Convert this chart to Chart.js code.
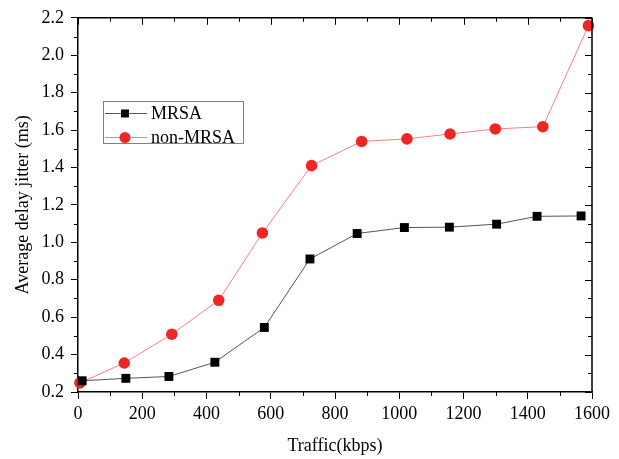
<!DOCTYPE html>
<html>
<head>
<meta charset="utf-8">
<script src="https://cdn.jsdelivr.net/npm/chart.js@4"></script>
<style>
  html, body { margin: 0; padding: 0; background: #fff; }
  #wrap { width: 619px; height: 459px; position: relative; }
</style>
</head>
<body>
<div id="wrap"><canvas id="c" width="619" height="459"></canvas></div>
<script>
const seriesNames = ['MRSA', 'non-MRSA'];
const mrsaTraffic = [13, 149, 283, 426, 580, 722, 869, 1016, 1156, 1303, 1429, 1566];
const mrsaJitter = [0.260, 0.273, 0.283, 0.359, 0.545, 0.911, 1.047, 1.079, 1.081, 1.097, 1.139, 1.141];
const nonTraffic = [6, 144, 292, 438, 574, 727, 883, 1024, 1158, 1299, 1447, 1589];
const nonJitter = [0.249, 0.355, 0.509, 0.690, 1.050, 1.410, 1.539, 1.553, 1.579, 1.606, 1.618, 2.158];
const xTitle = 'Traffic(kbps)';
const yTitle = 'Average delay jitter (ms)';

const FONT = '"Liberation Serif", "Times New Roman", serif';

const toPoints = (xs, ys) => xs.map((x, i) => ({ x: x, y: ys[i] }));

const framePlugin = {
  id: 'frame',
  afterDraw(chart) {
    const ctx = chart.ctx;
    const a = chart.chartArea;
    const xs = chart.scales.x, ys = chart.scales.y;
    ctx.save();
    ctx.strokeStyle = '#000';
    ctx.lineWidth = 1.5;
    ctx.beginPath();
    ctx.moveTo(a.left, a.top); ctx.lineTo(a.right, a.top);
    ctx.moveTo(a.right, a.top); ctx.lineTo(a.right, a.bottom);
    ctx.stroke();
    ctx.lineWidth = 1;
    ctx.beginPath();
    for (let v = xs.min; v <= xs.max + 1e-9; v += 100) {
      const px = Math.round(xs.getPixelForValue(v)) + 0.5;
      const major = Math.abs(v % 200) < 1e-9;
      const len = major ? 7 : 4;
      if (!major) { ctx.moveTo(px, a.bottom); ctx.lineTo(px, a.bottom + len); }
      ctx.moveTo(px, a.top); ctx.lineTo(px, a.top + len);
    }
    for (let k = 0; k <= 20; k++) {
      const v = ys.min + k * 0.1;
      const py = Math.round(ys.getPixelForValue(v)) + 0.5;
      const major = k % 2 === 0;
      const len = major ? 7 : 4;
      if (!major) { ctx.moveTo(a.left, py); ctx.lineTo(a.left - len, py); }
      ctx.moveTo(a.right, py); ctx.lineTo(a.right - len, py);
    }
    ctx.stroke();

    // legend box
    const bx = 103, by = 101, bw = 140, bh = 42;
    ctx.strokeStyle = '#808080';
    ctx.lineWidth = 1;
    ctx.strokeRect(bx + 0.5, by + 0.5, bw, bh);
    const rows = [113, 137];
    chart.data.datasets.forEach((ds, i) => {
      const yy = rows[i];
      ctx.strokeStyle = ds.borderColor;
      ctx.lineWidth = 1;
      ctx.beginPath();
      ctx.moveTo(105, yy + 0.5); ctx.lineTo(147, yy + 0.5);
      ctx.stroke();
      ctx.fillStyle = ds.pointBackgroundColor;
      if (ds.pointStyle === 'rect') {
        ctx.fillRect(125 - 4, yy - 4 + 0.5, 8, 8);
      } else {
        ctx.beginPath();
        ctx.arc(125, yy + 0.5, 5.5, 0, Math.PI * 2);
        ctx.fill();
      }
      ctx.fillStyle = '#000';
      ctx.font = '18px ' + FONT;
      ctx.textBaseline = 'middle';
      ctx.textAlign = 'left';
      ctx.fillText(ds.label, 151, yy + 1);
    });
    ctx.restore();
  }
};

new Chart(document.getElementById('c'), {
  type: 'line',
  data: {
    datasets: [
      {
        label: seriesNames[0],
        data: toPoints(mrsaTraffic, mrsaJitter),
        borderColor: '#555555',
        borderWidth: 1,
        pointStyle: 'rect',
        pointRadius: 6.3,
        pointBackgroundColor: '#000000',
        pointBorderColor: '#000000',
        pointBorderWidth: 0,
        tension: 0,
        clip: false
      },
      {
        label: seriesNames[1],
        data: toPoints(nonTraffic, nonJitter),
        borderColor: '#f58080',
        borderWidth: 1,
        pointStyle: 'circle',
        pointRadius: 5.8,
        pointBackgroundColor: '#ef2626',
        pointBorderColor: '#ef2626',
        pointBorderWidth: 0,
        tension: 0,
        clip: false
      }
    ]
  },
  options: {
    responsive: false,
    animation: false,
    events: [],
    layout: { padding: { top: 14, right: 27, left: 0, bottom: 0 } },
    plugins: { legend: { display: false }, tooltip: { enabled: false } },
    scales: {
      x: {
        type: 'linear',
        min: 0, max: 1600,
        afterFit: (s) => { s.height = 67; },
        border: { display: true, color: '#000', width: 1.5 },
        grid: { display: true, drawOnChartArea: false, drawTicks: true, tickLength: 7, color: '#000', lineWidth: 1 },
        ticks: { stepSize: 200, color: '#000', padding: 4, font: { family: FONT, size: 18 }, maxRotation: 0,
                 callback: (v) => String(v) },
        title: { display: true, text: xTitle, color: '#000', font: { family: FONT, size: 18 }, padding: { top: 0, bottom: 2 } }
      },
      y: {
        type: 'linear',
        min: 0.2, max: 2.2,
        afterFit: (s) => { s.width = 78; },
        border: { display: true, color: '#000', width: 1.5 },
        grid: { display: true, drawOnChartArea: false, drawTicks: true, tickLength: 7, color: '#000', lineWidth: 1 },
        ticks: { stepSize: 0.2, color: '#000', padding: 7, font: { family: FONT, size: 18 },
                 callback: (v) => Number(v).toFixed(1) },
        title: { display: true, text: yTitle, color: '#000', font: { family: FONT, size: 18 }, padding: { top: 12, bottom: 0 } }
      }
    }
  },
  plugins: [framePlugin]
});
</script>
</body>
</html>
